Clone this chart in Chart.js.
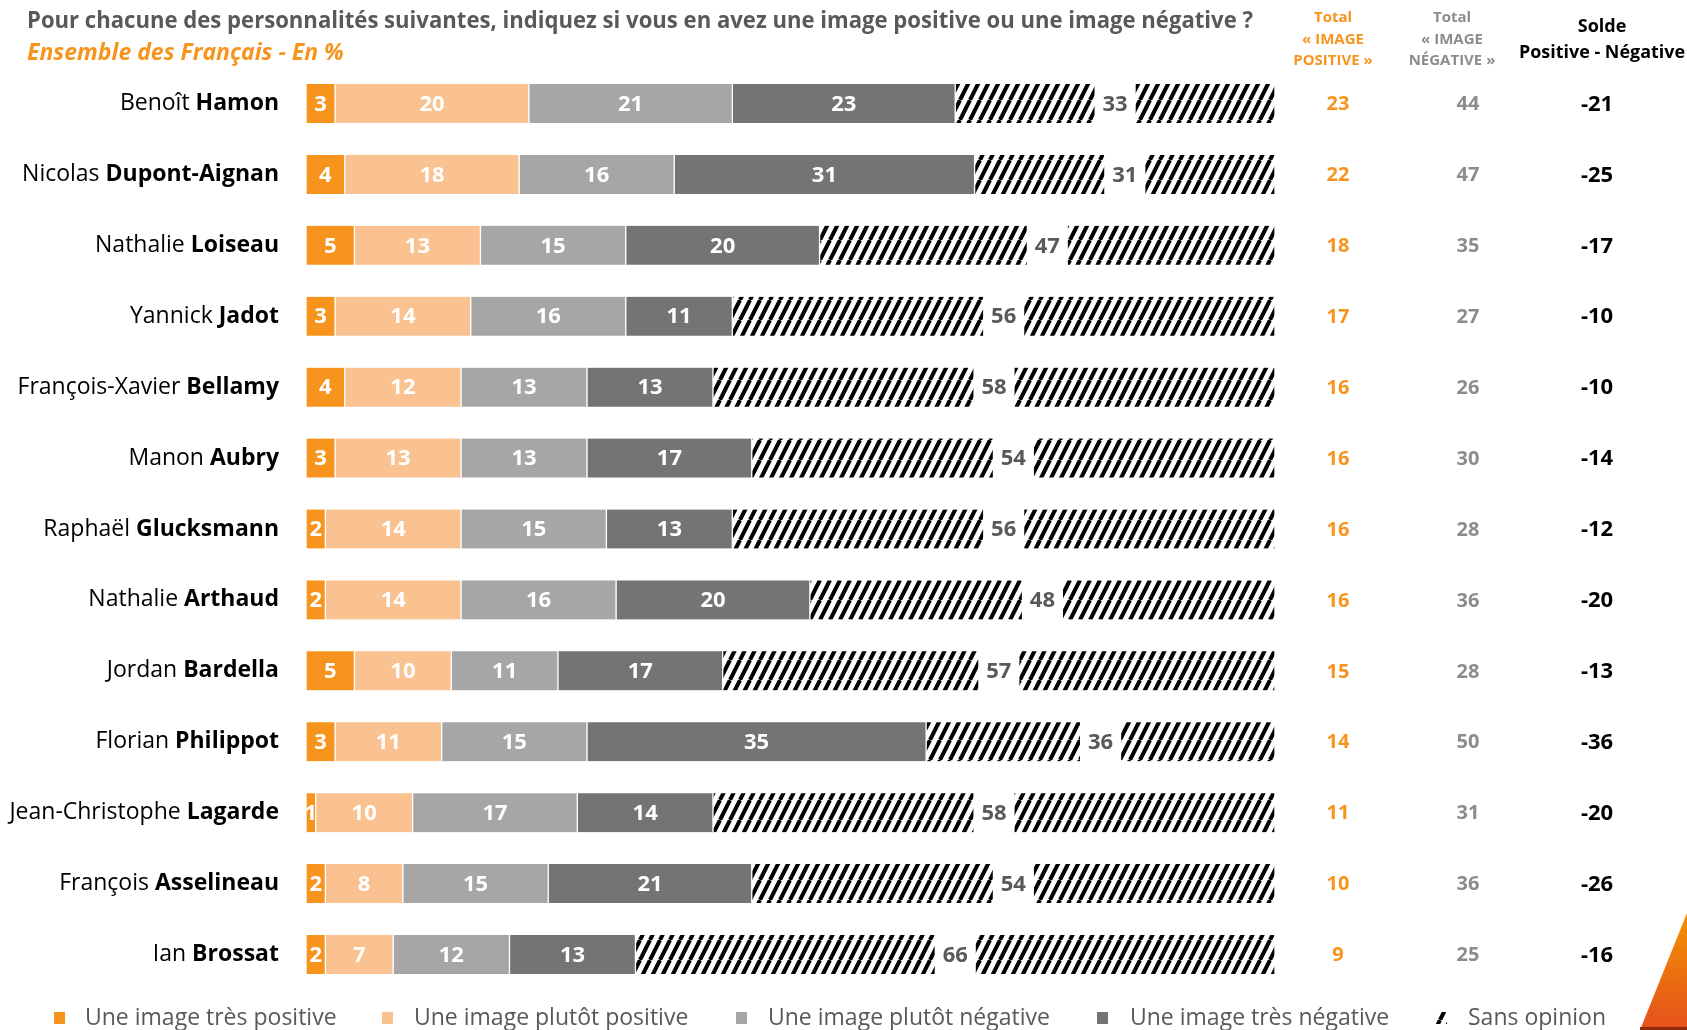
<!DOCTYPE html>
<html>
<head>
<meta charset="utf-8">
<script src="https://cdn.jsdelivr.net/npm/chart.js@4.4.1/dist/chart.umd.min.js"></script>
<style>
  html, body { margin: 0; padding: 0; background: #fff; }
  #wrap { width: 1687px; height: 1030px; position: relative; }
</style>
</head>
<body>
<div id="wrap"><canvas id="chart"></canvas></div>
<script>
// Données
const prenoms = ['Benoît', 'Nicolas', 'Nathalie', 'Yannick', 'François-Xavier', 'Manon', 'Raphaël',
  'Nathalie', 'Jordan', 'Florian', 'Jean-Christophe', 'François', 'Ian'];
const noms = ['Hamon', 'Dupont-Aignan', 'Loiseau', 'Jadot', 'Bellamy', 'Aubry', 'Glucksmann',
  'Arthaud', 'Bardella', 'Philippot', 'Lagarde', 'Asselineau', 'Brossat'];

const tresPositive   = [3, 4, 5, 3, 4, 3, 2, 2, 5, 3, 1, 2, 2];
const plutotPositive = [20, 18, 13, 14, 12, 13, 14, 14, 10, 11, 10, 8, 7];
const plutotNegative = [21, 16, 15, 16, 13, 13, 15, 16, 11, 15, 17, 15, 12];
const tresNegative   = [23, 31, 20, 11, 13, 17, 13, 20, 17, 35, 14, 21, 13];
const sansOpinion    = [33, 31, 47, 56, 58, 54, 56, 48, 57, 36, 58, 54, 66];

const totalPositive = [23, 22, 18, 17, 16, 16, 16, 16, 15, 14, 11, 10, 9];
const totalNegative = [44, 47, 35, 27, 26, 30, 28, 36, 28, 50, 31, 36, 25];
const solde         = [-21, -25, -17, -10, -10, -14, -12, -20, -13, -36, -20, -26, -16];

const legendLabels = ['Une image très positive', 'Une image plutôt positive',
  'Une image plutôt négative', 'Une image très négative', 'Sans opinion'];

const ORANGE = '#F7941D';
const PEACH = '#F9C290';
const LGREY = '#A6A6A6';
const DGREY = '#747474';
const TEXT = '#595959';
const FONT = '"Open Sans", sans-serif';

// motif hachuré pour "Sans opinion"
function makeHatch() {
  const c = document.createElement('canvas');
  c.width = 10; c.height = 20;
  const g = c.getContext('2d');
  g.fillStyle = '#fff';
  g.fillRect(0, 0, 10, 20);
  g.strokeStyle = '#000';
  g.lineWidth = 4;
  for (let dx = -10; dx <= 10; dx += 10) {
    g.beginPath();
    g.moveTo(dx, 20);
    g.lineTo(dx + 10, 0);
    g.stroke();
  }
  return g.createPattern(c, 'repeat');
}
const hatch = makeHatch();

const segColors = [ORANGE, PEACH, LGREY, DGREY, hatch];

const decorPlugin = {
  id: 'decor',
  afterDatasetsDraw(chart) {
    const ctx = chart.ctx;
    ctx.save();
    ctx.textBaseline = 'middle';
    ctx.textAlign = 'center';
    chart.data.datasets.forEach((ds, di) => {
      const meta = chart.getDatasetMeta(di);
      meta.data.forEach((bar, i) => {
        const txt = String(ds.data[i]);
        const cx = (bar.x + bar.base) / 2;
        ctx.font = 'bold 22px ' + FONT;
        if (di === 4) {
          const w = ctx.measureText(txt).width + 16;
          ctx.fillStyle = '#fff';
          ctx.fillRect(cx - w / 2, bar.y - bar.height / 2 - 1, w, bar.height + 2);
          ctx.fillStyle = TEXT;
        } else {
          ctx.fillStyle = '#fff';
        }
        ctx.fillText(txt, cx, bar.y + 1);
      });
    });
    ctx.restore();
  },
  afterDraw(chart) {
    const ctx = chart.ctx;
    const y = chart.scales.y;
    ctx.save();
    ctx.textBaseline = 'middle';

    // titre
    ctx.textAlign = 'left';
    ctx.fillStyle = TEXT;
    ctx.font = 'bold 23px ' + FONT;
    ctx.fillText('Pour chacune des personnalités suivantes, indiquez si vous en avez une image positive ou une image négative ?', 27, 21, 1226);
    ctx.fillStyle = ORANGE;
    ctx.font = 'italic bold 23px ' + FONT;
    ctx.fillText('Ensemble des Français - En %', 27, 53, 317);

    // en-têtes de colonnes
    ctx.textAlign = 'center';
    ctx.font = 'bold 15px ' + FONT;
    ctx.fillStyle = ORANGE;
    ['Total', '« IMAGE', 'POSITIVE »'].forEach((t, k) => ctx.fillText(t, 1333, 18 + k * 21.5, 90));
    ctx.fillStyle = '#8C8C8C';
    ['Total', '« IMAGE', 'NÉGATIVE »'].forEach((t, k) => ctx.fillText(t, 1452, 18 + k * 21.5, 94));
    ctx.fillStyle = '#000';
    ctx.font = 'bold 18px ' + FONT;
    ctx.fillText('Solde', 1602, 27);
    ctx.fillText('Positive - Négative', 1602, 53, 166);

    prenoms.forEach((p, i) => {
      const py = y.getPixelForValue(i);
      // noms
      ctx.textAlign = 'left';
      ctx.fillStyle = '#000';
      ctx.font = '23px ' + FONT;
      const a = p + ' ';
      const wa = ctx.measureText(a).width;
      ctx.font = 'bold 23px ' + FONT;
      const wb = ctx.measureText(noms[i]).width;
      const x0 = 279 - wa - wb;
      ctx.font = '23px ' + FONT;
      ctx.fillText(a, x0, py);
      ctx.font = 'bold 23px ' + FONT;
      ctx.fillText(noms[i], x0 + wa, py);

      // totaux
      ctx.textAlign = 'center';
      ctx.font = 'bold 20px ' + FONT;
      ctx.fillStyle = ORANGE;
      ctx.fillText(String(totalPositive[i]), 1338, py + 1);
      ctx.fillStyle = '#8C8C8C';
      ctx.fillText(String(totalNegative[i]), 1468, py + 1);
      ctx.fillStyle = '#000';
      ctx.font = 'bold 22px ' + FONT;
      ctx.fillText(String(solde[i]), 1597, py + 1);
    });

    // légende
    const lx = [54, 382, 736, 1097, 1436];
    const tx = [85, 414, 768, 1130, 1468];
    const ly = 1018;
    ctx.textAlign = 'left';
    ctx.font = '23px ' + FONT;
    legendLabels.forEach((t, k) => {
      ctx.fillStyle = segColors[k];
      ctx.fillRect(lx[k], ly - 6, 11, 12);
      ctx.fillStyle = TEXT;
      ctx.fillText(t, tx[k], ly);
    });

    // triangle décoratif
    const grad = ctx.createLinearGradient(0, 913, 0, 1030);
    grad.addColorStop(0, '#F39200');
    grad.addColorStop(1, '#E5501D');
    ctx.fillStyle = grad;
    ctx.beginPath();
    ctx.moveTo(1640, 1030);
    ctx.lineTo(1687, 913);
    ctx.lineTo(1687, 1030);
    ctx.closePath();
    ctx.fill();
    ctx.fillStyle = '#8E2A0C';
    ctx.fillRect(1640, 1027, 47, 3);

    ctx.restore();
  }
};

const series = [tresPositive, plutotPositive, plutotNegative, tresNegative, sansOpinion];

new Chart(document.getElementById('chart'), {
  type: 'bar',
  data: {
    labels: noms,
    datasets: series.map((d, k) => ({
      label: legendLabels[k],
      data: d,
      backgroundColor: segColors[k],
      borderColor: '#fff',
      borderWidth: { left: 1, right: 1, top: 0, bottom: 0 },
      borderSkipped: false,
      barThickness: 39
    }))
  },
  options: {
    indexAxis: 'y',
    responsive: true,
    maintainAspectRatio: false,
    animation: false,
    layout: { padding: { left: 306, right: 412, top: 68, bottom: 40 } },
    scales: {
      x: { stacked: true, min: 0, max: 100, display: false },
      y: { stacked: true, display: false }
    },
    plugins: {
      legend: { display: false },
      tooltip: { enabled: false }
    }
  },
  plugins: [decorPlugin]
});
</script>
</body>
</html>
